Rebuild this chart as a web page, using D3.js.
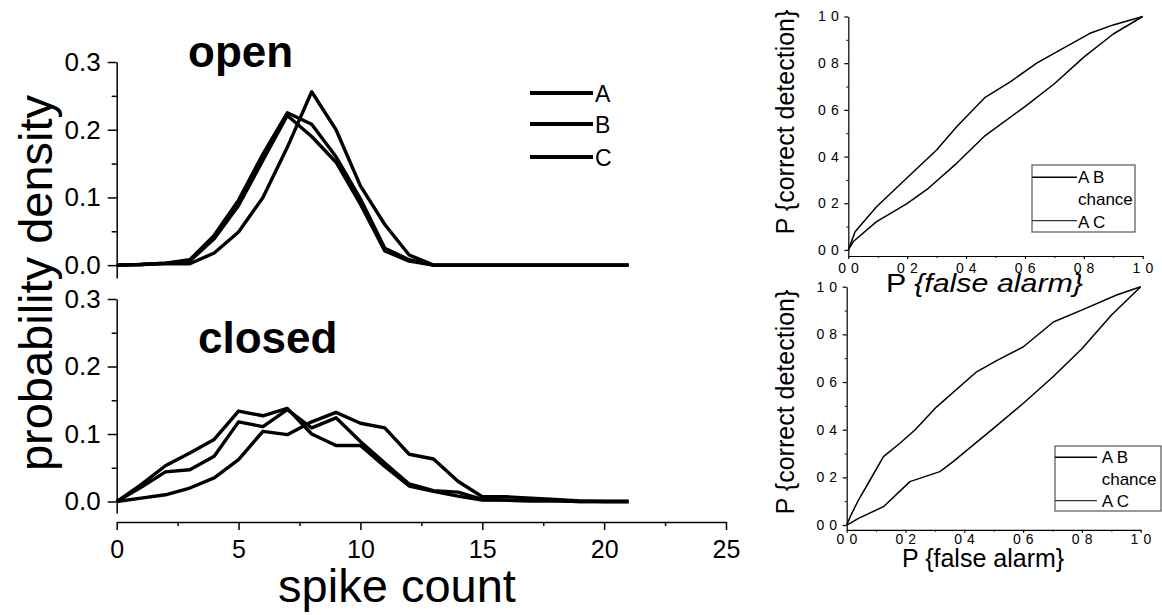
<!DOCTYPE html>
<html><head><meta charset="utf-8">
<script src="https://cdn.jsdelivr.net/npm/d3@7"></script>
<style>
body{margin:0;background:#fff}
svg{display:block}
text{font-family:"Liberation Sans",Arial,Helvetica,sans-serif;fill:#000}
</style>
</head><body>
<svg id="c" width="1162" height="615"></svg>
<script>
// ---------- data ----------
const spikeCounts = [0,1,2,3,4,5,6,7,8,9,10,11,12,13,14,15,16,17,18,19,20,21];
const seriesNames = ["A","B","C"];
const openA = [0,0.001,0.002,0.002,0.018,0.049,0.100,0.174,0.256,0.200,0.117,0.060,0.015,0,0,0,0,0,0,0,0,0];
const openB = [0,0.001,0.003,0.008,0.044,0.096,0.164,0.225,0.208,0.160,0.098,0.025,0.008,0,0,0,0,0,0,0,0,0];
const openC = [0,0.001,0.003,0.006,0.039,0.088,0.155,0.221,0.190,0.152,0.090,0.021,0.006,0,0,0,0,0,0,0,0,0];
const closedA = [0,0.025,0.053,0.072,0.092,0.134,0.127,0.138,0.100,0.083,0.083,0.052,0.023,0.015,0.008,0.002,0.002,0.001,0.001,0,0,0];
const closedB = [0,0.021,0.044,0.047,0.067,0.118,0.111,0.136,0.109,0.124,0.089,0.057,0.026,0.016,0.014,0.003,0.002,0.001,0.001,0,0,0];
const closedC = [0,0.005,0.010,0.020,0.035,0.062,0.104,0.099,0.118,0.132,0.116,0.109,0.070,0.063,0.030,0.007,0.007,0.005,0.003,0.001,0,0];
const densityTicks = [0,0.1,0.2,0.3];
const densityMinorTicks = [0.05,0.15,0.25];
const countTicks = [0,5,10,15,20,25];
const countMinorTicks = [2.5,7.5,12.5,17.5,22.5];
const panelTitles = ["open","closed"];

const rocTicks = [0,0.2,0.4,0.6,0.8,1.0];
const rocMinorTicks = [0.1,0.3,0.5,0.7,0.9];
const rocLegend = ["A B","chance","A C"];
// [P{false alarm}, P{correct detection}]
const rocOpenAB = [[0,0],[0.023,0.078],[0.096,0.185],[0.198,0.307],[0.300,0.428],[0.368,0.528],[0.465,0.654],[0.55,0.72],[0.64,0.80],[0.72,0.857],[0.821,0.928],[0.90,0.964],[1,1]];
const rocOpenAC = [[0,0],[0.017,0.036],[0.096,0.121],[0.198,0.197],[0.272,0.264],[0.368,0.371],[0.465,0.49],[0.60,0.614],[0.70,0.712],[0.80,0.826],[0.90,0.925],[1,1]];
const rocClosedAB = [[0,0],[0.012,0.035],[0.040,0.105],[0.080,0.19],[0.125,0.287],[0.181,0.343],[0.232,0.399],[0.306,0.496],[0.442,0.643],[0.51,0.69],[0.601,0.748],[0.703,0.852],[0.805,0.905],[0.918,0.965],[1,1]];
const rocClosedAC = [[0,0],[0.011,0.007],[0.040,0.028],[0.125,0.077],[0.215,0.182],[0.317,0.224],[0.362,0.266],[0.40,0.305],[0.493,0.399],[0.60,0.51],[0.70,0.62],[0.80,0.74],[0.90,0.88],[0.95,0.94],[1,1]];

// ---------- drawing ----------
const svg = d3.select("#c");
const fmt1 = d3.format(".1f");

function styleAxis(g, fs){
  g.selectAll("path,line").attr("stroke","#000").attr("stroke-width",1.5);
  g.selectAll("text").attr("font-size",fs).attr("fill","#000")
   .attr("font-family",'"Liberation Sans",Arial,sans-serif');
}

// left panels
const x = d3.scaleLinear([0,25],[116.7,726]);
const yTop = d3.scaleLinear([-0.019,0.3],[278,62]);
const yBot = d3.scaleLinear([-0.017,0.3],[513,299]);

[yTop,yBot].forEach(ys=>{
  const g = svg.append("g").attr("transform",`translate(${x(0)},0)`);
  g.call(d3.axisLeft(ys).tickValues(densityTicks).tickSize(9).tickPadding(7).tickSizeOuter(0).tickFormat(fmt1));
  styleAxis(g,26);
  const gm = svg.append("g").attr("transform",`translate(${x(0)},0)`);
  gm.call(d3.axisLeft(ys).tickValues(densityMinorTicks).tickSize(5).tickFormat(""));
  gm.select(".domain").remove();
  styleAxis(gm,26);
});

const gx = svg.append("g").attr("transform","translate(0,522)");
gx.call(d3.axisBottom(x).tickValues(countTicks).tickSize(8).tickPadding(10).tickSizeOuter(0).tickFormat(d3.format("d")));
styleAxis(gx,25);
const gxm = svg.append("g").attr("transform","translate(0,522)");
gxm.call(d3.axisBottom(x).tickValues(countMinorTicks).tickSize(4).tickFormat(""));
gxm.select(".domain").remove();
styleAxis(gxm,25);

function drawDensity(ys, series){
  const line = d3.line().x((d,i)=>x(spikeCounts[i])).y(d=>ys(d));
  series.forEach(s=>{
    svg.append("path").datum(s).attr("d",line).attr("fill","none")
      .attr("stroke","#000").attr("stroke-width",3.4).attr("stroke-linejoin","round");
  });
}
drawDensity(yTop,[openA,openB,openC]);
drawDensity(yBot,[closedA,closedB,closedC]);

svg.append("text").attr("x",188).attr("y",67).attr("font-size",44).attr("font-weight","bold").text(panelTitles[0]);
svg.append("text").attr("x",198).attr("y",353).attr("font-size",44).attr("font-weight","bold").text(panelTitles[1]);

// legend left
const legY = [93,124,157];
seriesNames.forEach((n,i)=>{
  svg.append("line").attr("x1",530).attr("x2",593).attr("y1",legY[i]).attr("y2",legY[i])
    .attr("stroke","#000").attr("stroke-width",4);
  svg.append("text").attr("x",595).attr("y",legY[i]+9).attr("font-size",23).text(n);
});

svg.append("text").attr("x",397).attr("y",602).attr("text-anchor","middle").attr("font-size",47).text("spike count");
svg.append("text").attr("transform","translate(52,283) rotate(-90)").attr("text-anchor","middle").attr("font-size",47).text("probability density");

// ROC panels
function drawRoc(cfg){
  const rx = d3.scaleLinear([0,1],cfg.xr);
  const ry = d3.scaleLinear([cfg.ymin,1],cfg.yr);
  const yAxisY0 = cfg.yr[0];
  const tf = d=>fmt1(d).replace("."," ");
  const gy = svg.append("g").attr("transform",`translate(${cfg.xr[0]},0)`);
  gy.call(d3.axisLeft(ry).tickValues(rocTicks).tickSize(4).tickPadding(5).tickSizeOuter(0).tickFormat(tf));
  styleAxis(gy,14);
  gy.selectAll("text").attr("letter-spacing",0.6);
  gy.selectAll("path,line").attr("stroke-width",1.2);
  const gym = svg.append("g").attr("transform",`translate(${cfg.xr[0]},0)`);
  gym.call(d3.axisLeft(ry).tickValues(rocMinorTicks).tickSize(2).tickFormat(""));
  gym.select(".domain").remove();
  styleAxis(gym,14); gym.selectAll("line").attr("stroke-width",1);
  const gxx = svg.append("g").attr("transform",`translate(0,${yAxisY0})`);
  gxx.call(d3.axisBottom(rx).tickValues(rocTicks).tickSize(3).tickPadding(cfg.xpad).tickSizeOuter(0).tickFormat(tf));
  styleAxis(gxx,14);
  gxx.selectAll("text").attr("letter-spacing",0.6);
  gxx.selectAll("path,line").attr("stroke-width",1.2);
  const gxm2 = svg.append("g").attr("transform",`translate(0,${yAxisY0})`);
  gxm2.call(d3.axisBottom(rx).tickValues(rocMinorTicks).tickSize(2).tickFormat(""));
  gxm2.select(".domain").remove();
  styleAxis(gxm2,14); gxm2.selectAll("line").attr("stroke-width",1);

  const line = d3.line().x(d=>rx(d[0])).y(d=>ry(d[1]));
  [cfg.ab,cfg.ac].forEach(s=>{
    svg.append("path").datum(s).attr("d",line).attr("fill","none")
      .attr("stroke","#000").attr("stroke-width",1.5).attr("stroke-linejoin","round");
  });

  const L = cfg.leg;
  svg.append("rect").attr("x",L.x).attr("y",L.y).attr("width",L.w).attr("height",L.h)
    .attr("fill","none").attr("stroke","#555").attr("stroke-width",1.2);
  svg.append("line").attr("x1",L.x).attr("x2",L.lx2).attr("y1",L.l1).attr("y2",L.l1)
    .attr("stroke","#000").attr("stroke-width",1.6);
  svg.append("line").attr("x1",L.x).attr("x2",L.lx2).attr("y1",L.l2).attr("y2",L.l2)
    .attr("stroke","#333").attr("stroke-width",1.2);
  rocLegend.forEach((t,i)=>{
    svg.append("text").attr("x",L.tx).attr("y",L.tb[i]).attr("font-size",17).text(t);
  });

  const xl = svg.append("text").attr("x",cfg.xlab[0]).attr("y",cfg.xlab[1]).attr("font-size",25);
  if(cfg.italic){
    xl.attr("textLength",cfg.xlabLen).attr("lengthAdjust","spacingAndGlyphs");
    xl.append("tspan").text("P ");
    xl.append("tspan").attr("font-style","italic").text("{false alarm}");
  } else {
    xl.text("P {false alarm}");
  }
  svg.append("text").attr("transform",`translate(${cfg.ylab[0]},${cfg.ylab[1]}) rotate(-90)`)
    .attr("text-anchor","middle").attr("font-size",25).text("P {correct detection}");
}

drawRoc({xr:[848.3,1142.7], ymin:-0.026, yr:[256,16.5], xpad:4,
  ab:rocOpenAB, ac:rocOpenAC,
  leg:{x:1032,y:165,w:103,h:67,lx2:1077,l1:177.3,l2:220.7,tx:1078,tb:[183.3,205,228.3]},
  xlab:[886,292], italic:true, xlabLen:197, ylab:[794,122]});
drawRoc({xr:[846.7,1140.7], ymin:-0.02, yr:[529.8,286.7], xpad:1,
  ab:rocClosedAB, ac:rocClosedAC,
  leg:{x:1055,y:446,w:106,h:65,lx2:1097,l1:457.3,l2:500.7,tx:1101.7,tb:[463.3,485,507]},
  xlab:[902,567], italic:false, ylab:[794,402]});
</script>
</body></html>
